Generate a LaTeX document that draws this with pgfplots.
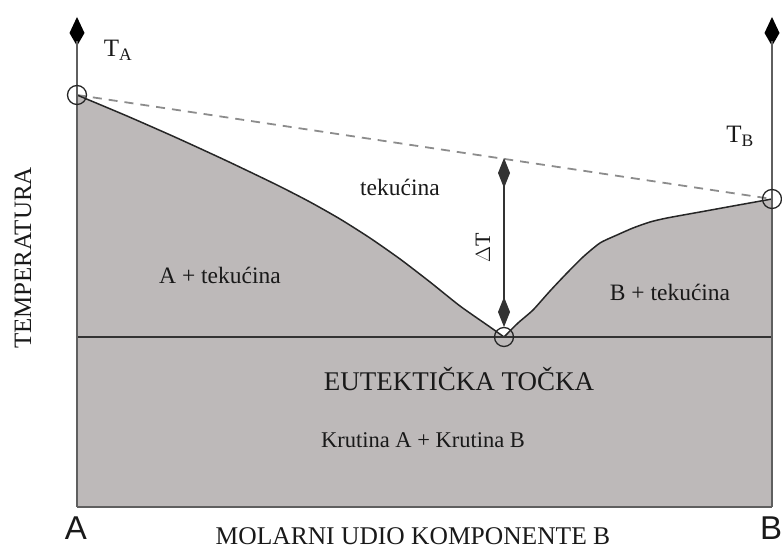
\documentclass[border=0pt]{standalone}
\usepackage{pgfplots}
\pgfplotsset{compat=1.18}
\usepackage{fontspec}
\setmainfont{Liberation Serif}
\newfontfamily\sansf{Liberation Sans}
\usetikzlibrary{arrows.meta}
\definecolor{fillg}{RGB}{189,185,185}
\definecolor{axg}{RGB}{95,95,95}
\definecolor{dashg}{RGB}{140,140,140}
\definecolor{txt}{RGB}{25,25,25}
\begin{document}
\begin{tikzpicture}
\begin{axis}[
  hide axis, scale only axis, x=1pt, y=1pt,
  xmin=0, xmax=782, ymin=0, ymax=551,
  clip=false,
]
\path (axis cs:0,0) rectangle (axis cs:782,551);
% filled two-phase + solid region
\addplot[fill=fillg, draw=none] coordinates {
 (77,44) (77,456) (127,435) (177,413) (227,390) (277,366) (310,349) (340,332)
 (370,313) (400,292) (430,269) (460,245) (490,224) (504,214)
 (518,228) (533,241) (550,260) (567,278) (583,294) (600,308) (617,316)
 (633,323) (650,329) (667,333) (700,339) (733,345) (772,352) (772,44)
} -- cycle;
% dashed ideal line
\addplot[dashg, line width=1.8pt, dash pattern=on 9pt off 7pt] coordinates {(77,456) (772,352)};
% liquidus left
\addplot[black!85, line width=1.5pt, smooth, tension=0.4] coordinates {
 (77,456) (127,435) (177,413) (227,390) (277,366) (310,349) (340,332)
 (370,313) (400,292) (430,269) (460,245) (490,224) (504,214)};
% liquidus right
\addplot[black!85, line width=1.5pt, smooth, tension=0.4] coordinates {
 (504,214) (518,228) (533,241) (550,260) (567,278) (583,294) (600,308) (617,316)
 (633,323) (650,329) (667,333) (700,339) (733,345) (772,352)};
% eutectic line
\addplot[black!80, line width=2pt] coordinates {(77,214) (772,214)};
% bottom line
\addplot[axg, line width=1.5pt] coordinates {(77,44) (772,44)};
% vertical axes with arrows
\addplot[black, line width=2pt, -{Kite[length=29pt,width=15pt,inset=13pt]}] coordinates {(77,500) (77,534)};
\addplot[black, line width=2pt, -{Kite[length=29pt,width=15pt,inset=13pt]}] coordinates {(772,500) (772,534)};
\addplot[axg, line width=2pt] coordinates {(77,44) (77,510)};
\addplot[axg, line width=2pt] coordinates {(772,44) (772,510)};
% Delta T arrow
\addplot[axg, line width=1.5pt] coordinates {(504,230) (504,375)};
\addplot[black!80, line width=1.2pt, {Kite[length=30pt,width=12pt,inset=15pt]}-{Kite[length=30pt,width=12pt,inset=15pt]}] coordinates {(504,224) (504,393)};
% circles
\addplot[only marks, mark=o, mark size=9.5pt, mark options={line width=1.3pt, draw=black!85, fill=none}] coordinates {(77,456) (772,352) (504,214)};
% texts
\node[txt, font=\fontsize{25}{28}\selectfont] at (axis cs:118,501) {T\textsubscript{A}};
\node[txt, font=\fontsize{25}{28}\selectfont] at (axis cs:740,415) {T\textsubscript{B}};
\node[txt, font=\fontsize{23.5}{26}\selectfont] at (axis cs:400,364) {tekućina};
\node[txt, font=\fontsize{23.5}{26}\selectfont] at (axis cs:220,276) {A + tekućina};
\node[txt, font=\fontsize{23.5}{26}\selectfont] at (axis cs:670,259) {B + tekućina};
\node[txt, font=\fontsize{22}{26}\selectfont, rotate=90] at (axis cs:483,303) {$\Delta$T};
\node[txt, font=\fontsize{27}{30}\selectfont] at (axis cs:459,172) {EUTEKTIČKA TOČKA};
\node[txt, font=\fontsize{22.5}{26}\selectfont] at (axis cs:423,111) {Krutina A + Krutina B};
\node[txt, font=\fontsize{25.5}{28}\selectfont, anchor=base, inner sep=0pt] at (axis cs:413,6) {MOLARNI UDIO KOMPONENTE B};
\node[txt, font=\sansf\fontsize{33}{36}\selectfont, anchor=base, inner sep=0pt] at (axis cs:76,11) {A};
\node[txt, font=\sansf\fontsize{33}{36}\selectfont, anchor=base, inner sep=0pt] at (axis cs:771,11) {B};
\node[txt, font=\fontsize{25}{28}\selectfont, rotate=90] at (axis cs:23,293) {TEMPERATURA};
\end{axis}
\end{tikzpicture}
\end{document}
